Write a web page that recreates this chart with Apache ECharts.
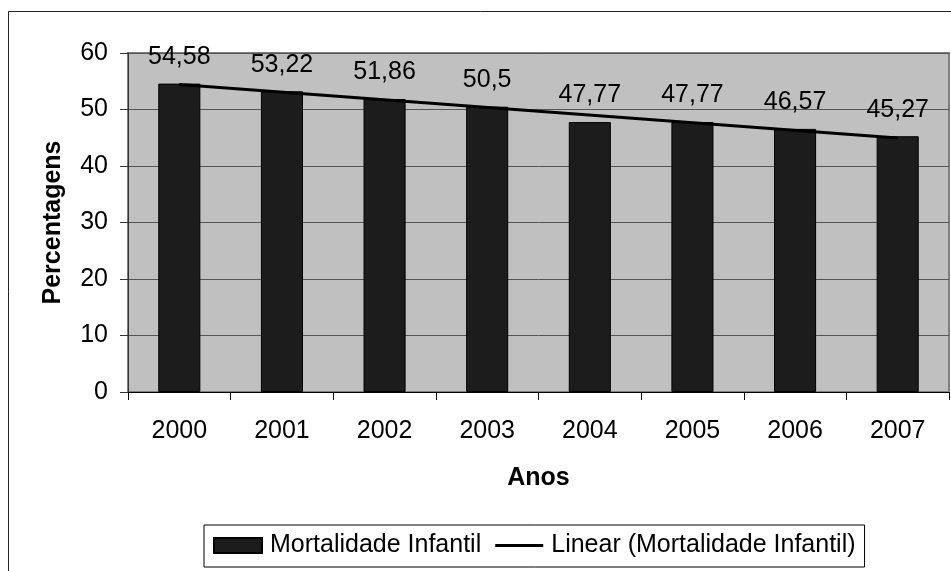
<!DOCTYPE html>
<html>
<head>
<meta charset="utf-8">
<script src="https://cdn.jsdelivr.net/npm/echarts@6/dist/echarts.min.js"></script>
<style>
html,body{margin:0;padding:0;background:#fff;}
#chart{width:951px;height:571px;}
</style>
</head>
<body>
<div id="chart"></div>
<script>
var categories = ['2000','2001','2002','2003','2004','2005','2006','2007'];
var mortalidade = [54.58, 53.22, 51.86, 50.5, 47.77, 47.77, 46.57, 45.27];
// trend line endpoints
var trendCategories = ['2000','2007'];
var trendValues = [54.42, 44.97];
var yTicks = [0, 10, 20, 30, 40, 50, 60];

var FONT = "'Liberation Sans', Arial, sans-serif";
var chart = echarts.init(document.getElementById('chart'), null, {renderer:'canvas'});
chart.setOption({
  animation: false,
  backgroundColor: '#ffffff',
  textStyle: {fontFamily: FONT, color: '#000'},
  graphic: [{
    type: 'rect', silent: true, z: -10,
    shape: {x: 8.5, y: 11.5, width: 1200, height: 1200},
    style: {fill: 'none', stroke: '#222', lineWidth: 1}
  }],
  grid: {
    left: 128, right: 2, top: 53, bottom: 179,
    show: true, backgroundColor: '#c0c0c0', borderColor: '#808080', borderWidth: 2
  },
  legend: {
    left: 204, top: 525,
    padding: [8, 9, 9, 9],
    itemGap: 14,
    itemWidth: 48, itemHeight: 15,
    borderColor: '#000', borderWidth: 1,
    backgroundColor: '#fff',
    textStyle: {fontFamily: FONT, fontSize: 25, color: '#000', padding: [0,0,0,3]},
    data: [
      {name: 'Mortalidade Infantil', icon: 'rect'},
      {name: 'Linear (Mortalidade Infantil)', icon: 'path://M0,0M48,15M0,6L48,6L48,9L0,9Z'}
    ]
  },
  xAxis: {
    type: 'category',
    data: categories,
    name: 'Anos',
    nameLocation: 'middle',
    nameGap: 74,
    nameTextStyle: {fontFamily: FONT, fontSize: 25, fontWeight: 'bold', color: '#000'},
    axisLine: {lineStyle: {color: '#000', width: 1}},
    axisTick: {show: true, length: 8, lineStyle: {color: '#000'}},
    axisLabel: {fontFamily: FONT, fontSize: 25, color: '#000', margin: 27},
    splitLine: {show: false}
  },
  yAxis: {
    type: 'value',
    min: yTicks[0], max: yTicks[yTicks.length-1], interval: 10,
    name: 'Percentagens',
    nameLocation: 'middle',
    nameGap: 62,
    nameRotate: 90,
    nameTextStyle: {fontFamily: FONT, fontSize: 25, fontWeight: 'bold', color: '#000'},
    axisLine: {show: true, lineStyle: {color: '#333', width: 1}},
    axisTick: {show: true, length: 8, lineStyle: {color: '#333'}},
    axisLabel: {fontFamily: FONT, fontSize: 25, color: '#000', margin: 20},
    splitLine: {show: true, lineStyle: {color: '#555', width: 1}}
  },
  series: [
    {
      name: 'Mortalidade Infantil',
      type: 'bar',
      data: mortalidade,
      barCategoryGap: '59%',
      itemStyle: {color: '#1c1c1c', borderColor: '#000', borderWidth: 1},
      label: {
        show: true, position: 'top', distance: 14,
        fontFamily: FONT, fontSize: 25, color: '#000',
        formatter: function(p){ return String(p.value).replace('.', ','); }
      },
      z: 2
    },
    {
      name: 'Linear (Mortalidade Infantil)',
      type: 'line',
      data: trendCategories.map(function(c, i){ return [c, trendValues[i]]; }),
      symbol: 'none',
      lineStyle: {color: '#000', width: 3},
      itemStyle: {color: '#000'},
      z: 3
    }
  ]
});
</script>
</body>
</html>
